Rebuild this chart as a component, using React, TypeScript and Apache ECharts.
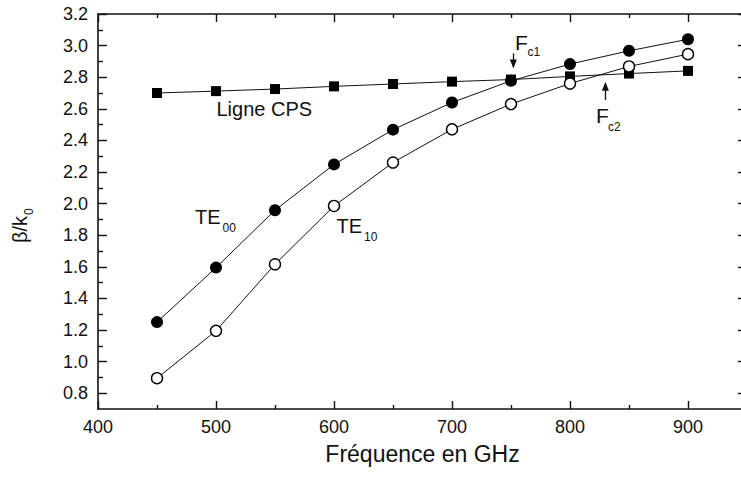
import React, { useEffect, useRef } from "react";
import * as echarts from "echarts";

const freq = [450, 500, 550, 600, 650, 700, 750, 800, 850, 900];
const cps = [2.70, 2.712, 2.725, 2.742, 2.757, 2.772, 2.785, 2.805, 2.823, 2.84];
const te00 = [1.25, 1.595, 1.958, 2.248, 2.468, 2.64, 2.777, 2.883, 2.967, 3.04];
const te10 = [0.895, 1.195, 1.616, 1.985, 2.26, 2.47, 2.63, 2.76, 2.868, 2.946];

const xMajor = [400, 500, 600, 700, 800, 900];
const xMinor = [450, 550, 650, 750, 850];
const yMajor = [0.8, 1.0, 1.2, 1.4, 1.6, 1.8, 2.0, 2.2, 2.4, 2.6, 2.8, 3.0, 3.2];
const yMinor = [0.9, 1.1, 1.3, 1.5, 1.7, 1.9, 2.1, 2.3, 2.5, 2.7, 2.9, 3.1];

// Arrow annotations in data coordinates: [x, yStart, yEnd]
const fc1Arrow = [752, 2.951, 2.884];
const fc2Arrow = [830, 2.655, 2.742];

const X_MIN = 400, X_MAX = 950, Y_MIN = 0.7, Y_MAX = 3.2;
const FONT = "Liberation Sans, Arial, sans-serif";
const INK = "#111";

const gridRect = { left: 98, right: -6, top: 14, bottom: 69, containLabel: false, outerBoundsMode: "none" };

function pairs(ys: number[]) {
  return freq.map((f, i) => [f, ys[i]]);
}

function xAxisDef(grid: number, pos: string, ticks: number[], len: number, showLine: boolean, labels: boolean) {
  return {
    type: "value",
    gridIndex: grid,
    position: pos,
    min: X_MIN,
    max: X_MAX,
    axisLine: { show: showLine, onZero: false, lineStyle: { color: INK, width: 1.6 } },
    axisTick: { show: true, inside: true, length: len, customValues: ticks, lineStyle: { color: INK, width: 1.4 } },
    axisLabel: labels
      ? { show: true, customValues: ticks, margin: 9, fontSize: 18, fontFamily: FONT, color: INK }
      : { show: false },
    splitLine: { show: false },
    ...(labels
      ? {
          name: "Fréquence en GHz",
          nameLocation: "middle",
          nameGap: 33,
          nameTextStyle: { fontSize: 23, fontFamily: FONT, color: INK },
        }
      : {}),
  };
}

function yAxisDef(grid: number, pos: string, ticks: number[], len: number, showLine: boolean, labels: boolean) {
  return {
    type: "value",
    gridIndex: grid,
    position: pos,
    min: Y_MIN,
    max: Y_MAX,
    axisLine: { show: showLine, onZero: false, lineStyle: { color: INK, width: 1.6 } },
    axisTick: { show: true, inside: true, length: len, customValues: ticks, lineStyle: { color: INK, width: 1.4 } },
    axisLabel: labels
      ? {
          show: true,
          customValues: ticks,
          margin: 10,
          fontSize: 18,
          fontFamily: FONT,
          color: INK,
          formatter: (v: number) => v.toFixed(1),
        }
      : { show: false },
    splitLine: { show: false },
  };
}

function txt(text: string, x: number, y: number, size: number, rotation = 0) {
  return {
    type: "text",
    x,
    y,
    rotation,
    silent: true,
    style: {
      text,
      fontSize: size,
      fontFamily: FONT,
      fill: INK,
      align: "left",
      verticalAlign: "middle",
    },
  };
}

export default function App() {
  const ref = useRef<HTMLDivElement>(null);
  useEffect(() => {
    if (!ref.current) return;
    const chart = echarts.init(ref.current, undefined, { renderer: "svg" });
    const lineStyle = { color: INK, width: 1 };
    const option: any = {
      animation: false,
      backgroundColor: "#fff",
      grid: [gridRect, gridRect],
      xAxis: [
        xAxisDef(0, "bottom", xMajor, 8, true, true),
        xAxisDef(0, "top", xMajor, 8, true, false),
        xAxisDef(1, "bottom", xMinor, 4, false, false),
        xAxisDef(1, "top", xMinor, 4, false, false),
      ],
      yAxis: [
        yAxisDef(0, "left", yMajor, 9, true, true),
        yAxisDef(0, "right", yMajor, 9, true, false),
        yAxisDef(1, "left", yMinor, 5, false, false),
        yAxisDef(1, "right", yMinor, 5, false, false),
      ],
      series: [
        {
          name: "Ligne CPS",
          type: "line",
          xAxisIndex: 0,
          yAxisIndex: 0,
          data: pairs(cps),
          symbol: "rect",
          symbolSize: 10,
          showAllSymbol: true,
          lineStyle,
          itemStyle: { color: "#000", borderWidth: 0 },
          silent: true,
          z: 3,
          markLine: {
            silent: true,
            symbol: ["none", "triangle"],
            symbolSize: [7, 9],
            label: { show: false },
            lineStyle: { color: INK, width: 1.3, type: "solid" },
            data: [
              [{ coord: [fc1Arrow[0], fc1Arrow[1]] }, { coord: [fc1Arrow[0], fc1Arrow[2]] }],
              [{ coord: [fc2Arrow[0], fc2Arrow[1]] }, { coord: [fc2Arrow[0], fc2Arrow[2]] }],
            ],
          },
        },
        {
          name: "TE00",
          type: "line",
          xAxisIndex: 0,
          yAxisIndex: 0,
          data: pairs(te00),
          symbol: "circle",
          symbolSize: 12,
          showAllSymbol: true,
          lineStyle,
          itemStyle: { color: "#000", borderWidth: 0 },
          silent: true,
          z: 4,
        },
        {
          name: "TE10",
          type: "line",
          xAxisIndex: 0,
          yAxisIndex: 0,
          data: pairs(te10),
          symbol: "circle",
          symbolSize: 11,
          showAllSymbol: true,
          lineStyle,
          itemStyle: { color: "#fff", borderColor: "#000", borderWidth: 1.4 },
          silent: true,
          z: 5,
        },
      ],
      graphic: [
        txt("Ligne CPS", 216.5, 109, 20),
        txt("TE", 195, 217, 20),
        txt("00", 222.5, 227.5, 12),
        txt("TE", 336.5, 226, 20),
        txt("10", 364, 236.5, 12),
        txt("F", 515, 42.5, 21),
        txt("c1", 527.5, 52, 12),
        txt("F", 596, 115.5, 21),
        txt("c2", 608, 127, 12),
        txt("β/k", 20, 243, 20, Math.PI / 2),
        txt("0", 29, 215, 12, Math.PI / 2),
      ],
    };
    chart.setOption(option);
    return () => chart.dispose();
  }, []);
  return (
    <div
      ref={ref}
      style={{ position: "fixed", left: 0, top: 0, width: 741, height: 478, background: "#fff" }}
    />
  );
}
